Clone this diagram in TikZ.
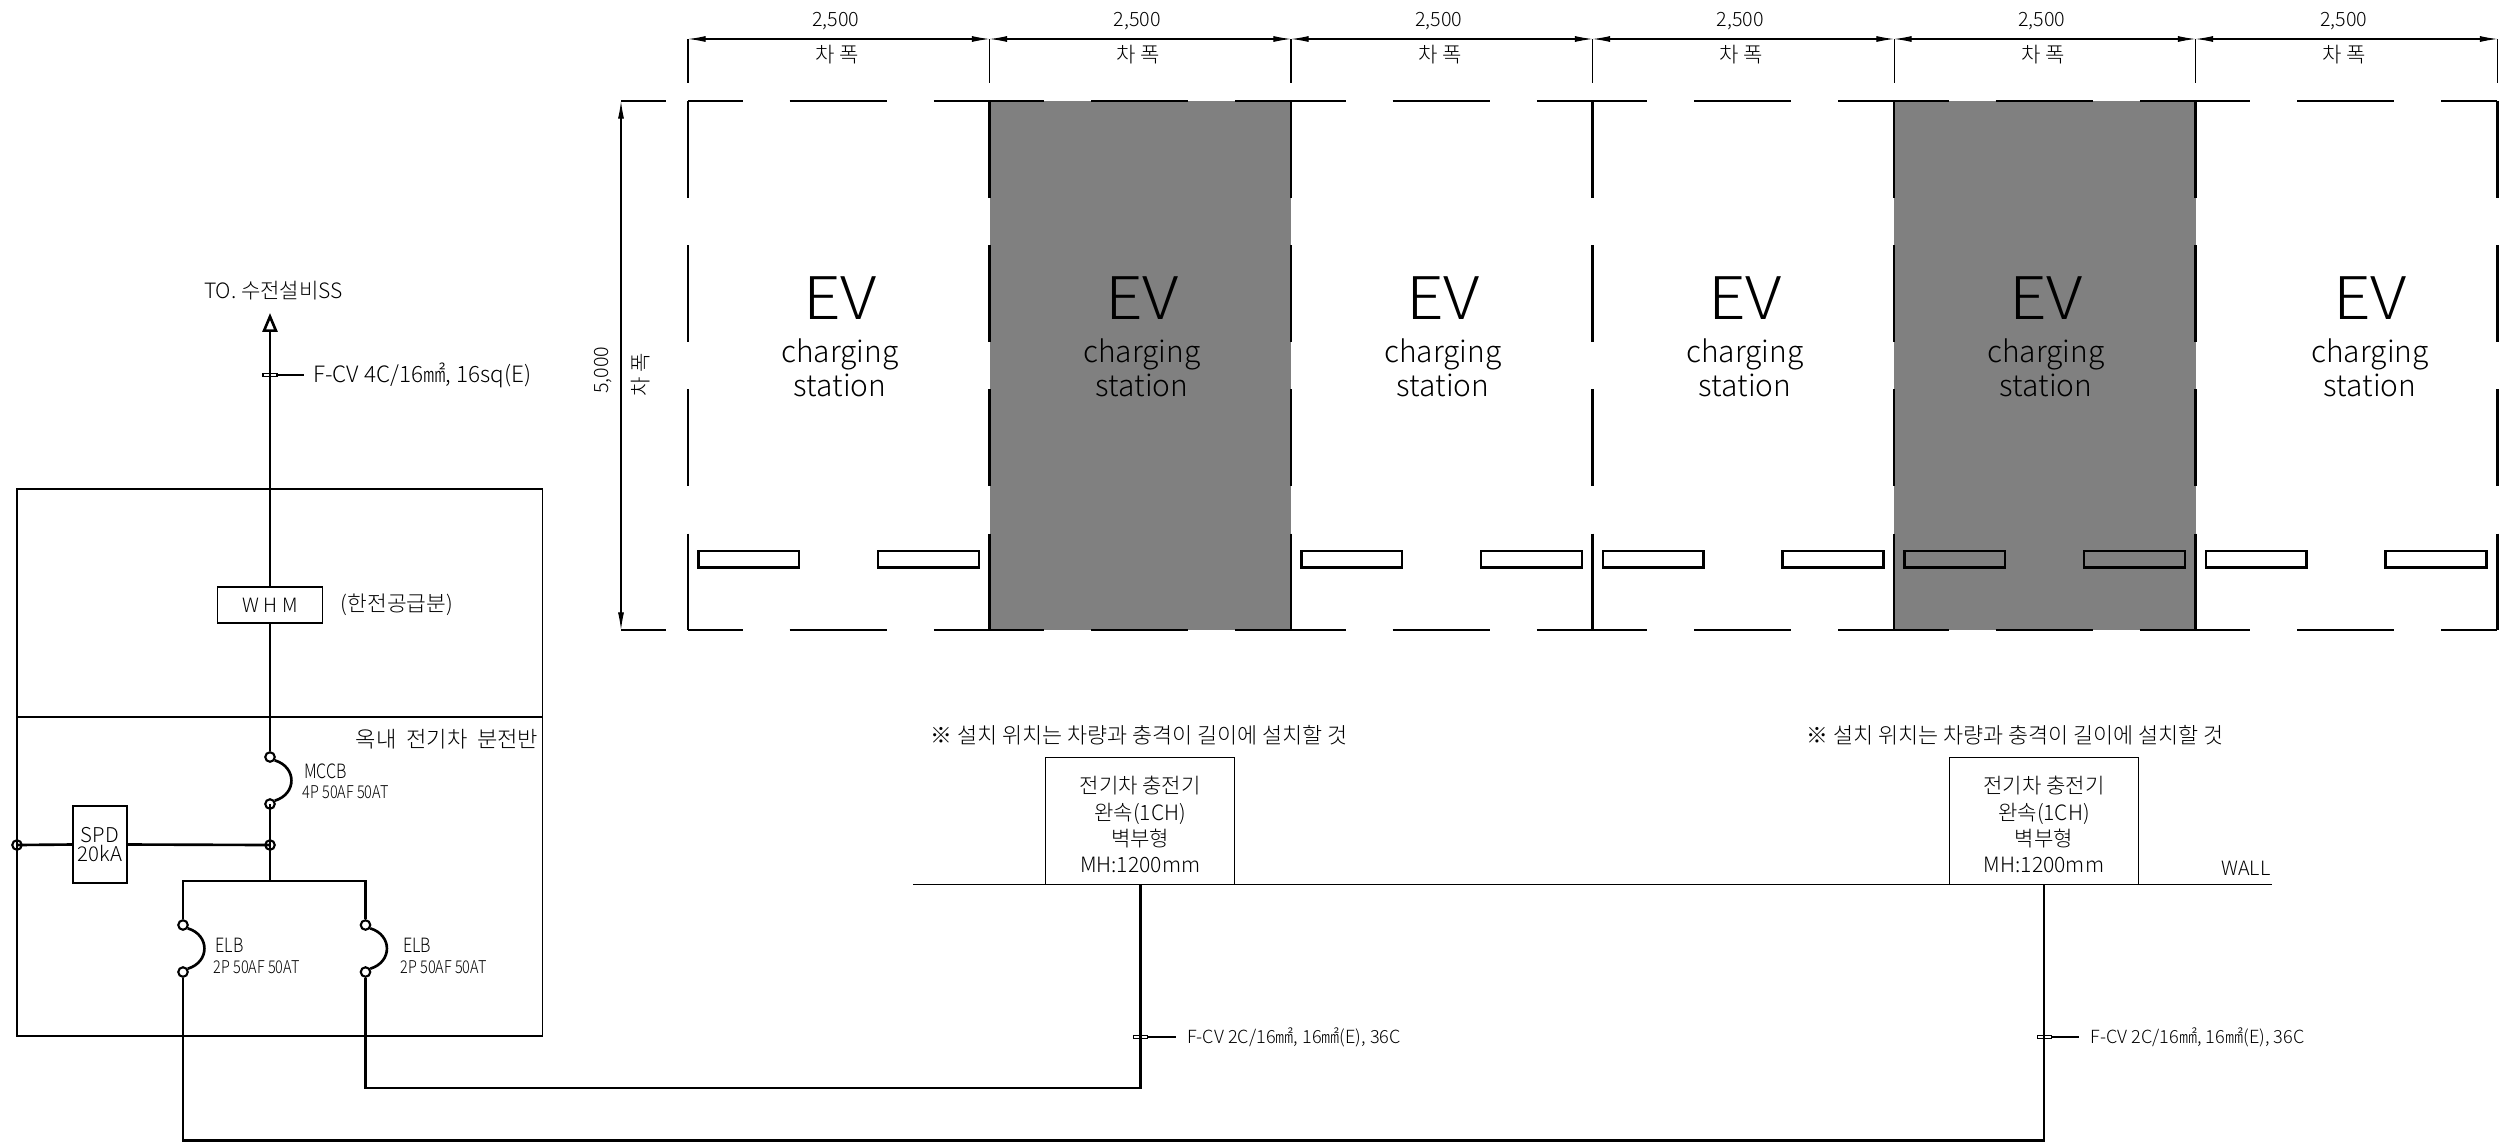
\documentclass[tikz,border=0pt]{standalone}
\usepackage{fontspec}
\usepackage{graphicx}
\usetikzlibrary{arrows.meta}
\setmainfont{Noto Sans CJK KR Light}
\newcommand*{\FontAt}[1]{\fontsize{#1}{#1}\selectfont}
\newcommand*{\Narrow}[1]{\scalebox{0.82}[1]{#1}}
\tikzset{
    every node/.style={inner sep=0pt},
    wire/.style={line width=0.75pt},
    thinline/.style={line width=0.3pt},
    bayline/.style={line width=0.75pt},
    dimline/.style={line width=0.3pt, {Latex[length=5pt,width=1.7pt]}-{Latex[length=5pt,width=1.7pt]}},
    term/.style={circle, draw, line width=0.6pt, minimum size=0.095cm},
    box/.style={draw, thinline, align=center},
    charger/.style={box, minimum width=1.885cm, minimum height=1.27cm, font=\fontsize{6}{7.5}\selectfont},
    cabletick/.style={draw, line width=0.3pt, minimum width=0.14cm, minimum height=0.035cm},
    small/.style={font=\FontAt{5.6}},
    rating/.style={font=\FontAt{5}},
    note/.style={font=\FontAt{6.2}},
}

\begin{document}
\begin{tikzpicture}[x=0.01cm,y=-0.01cm]
    \useasboundingbox (0,0) rectangle (2501,1142);
    \fill[white] (0,0) rectangle (2501,1142);
    \foreach \x in {989.5,1894}
        \fill[black!50] (\x,101) rectangle ({\x+301.5},630);
    \foreach \x in {688,989.5,1291,1592.5,1894,2195.5}
        \foreach \y in {101,630}
            \draw[bayline, dash pattern=on 15.5pt off 13.4pt on 27.6pt off 13.4pt on 16.5pt] (\x,\y) -- ({\x+301.7},\y);
    \foreach \x in {688,1291,1592.5,1894,2195.5}{
        \draw[line width=0.7pt] ({\x+10.5},551) rectangle ({\x+111},567.5);
        \draw[line width=0.7pt] ({\x+190},551) rectangle ({\x+291},567.5);
    }
    \foreach \x in {688,989.5,1291,1592.5,1894,2195.5,2497.5}{
        \draw[bayline, dash pattern=on 27.6pt off 13.4pt] (\x,101) -- (\x,630);
        \draw[thinline] (\x,39) -- (\x,83);
    }
    \foreach \xa/\xb in {688/989.5,989.5/1291,1291/1592.5,1592.5/1894,1894/2195.5,2195.5/2497.5}{
        \draw[dimline] (\xa,39) -- (\xb,39);
        \node[small] at ({(\xa+\xb)/2-3},21) {2,500};
        \node[font=\FontAt{6}] at ({(\xa+\xb)/2-2},55) {차 폭};
    }
    \draw[dimline] (621,101) -- (621,630);
    \draw[thinline] (621,101) -- (666,101);
    \draw[thinline] (621,630) -- (666,630);
    \node[small, rotate=90] at (602.7,370) {5,000};
    \node[font=\FontAt{6}, rotate=90] at (640.7,375) {차 폭};
    \foreach \x in {840,1142,1443,1745,2046,2370}{
        \node[font=\FontAt{16.7}] at (\x,298) {\scalebox{1.12}[1]{EV}};
        \node[font=\fontsize{8.5}{8.55}\selectfont, align=center] at (\x,368) {charging\\station};
    }

    \draw[thinline] (17,489) rectangle (542.5,1036);
    \draw[thinline] (17,717) -- (542.5,717);
    \node[font=\FontAt{6}] at (273.5,291) {TO. 수전설비SS};
    \node[font=\FontAt{6.1}] at (397,605) {(한전공급분)};
    \node[font=\FontAt{6.3}] at (447,739) {옥내\ \ 전기차\ \ 분전반};
    \node[box, minimum width=1.045cm, minimum height=0.36cm, small] (whm) at (270,605) {W H M};
    \coordinate (feedtop) at (270,313);
    \foreach \n/\x/\ya/\yb in {mccb/270/757/804,elba/183/925/972,elbb/365.5/925/972}{
        \node[term] (\n top) at (\x,\ya) {};
        \node[term] (\n bot) at (\x,\yb) {};
        \draw[wire] (\n top.-35) .. controls ({\x+27},{\ya+10}) and ({\x+27},{\yb-10}) .. (\n bot.35);
    }
    \node[term] (ground) at (17,845) {};
    \node[term] (tap) at (270,845) {};
    \node[box, minimum width=0.54cm, minimum height=0.77cm, font=\fontsize{5.8}{5.5}\selectfont, line width=0.45pt] (spd) at (100,844.5) {SPD\\20kA};
    \coordinate (busmid) at (270,881);
    \coordinate (busleft) at (183,881);
    \coordinate (busright) at (365.5,881);
    \node[charger] (chargera) at (1140.2,821) {\rule{0pt}{7pt}전기차 충전기\\완속(1CH)\\벽부형\\MH:1200mm};
    \node[charger] (chargerb) at (2044,821) {\rule{0pt}{7pt}전기차 충전기\\완속(1CH)\\벽부형\\MH:1200mm};
    \coordinate (walla) at (913,884.5);
    \coordinate (wallb) at (2272,884.5);
    \coordinate (cornera) at (1140.2,1088);
    \coordinate (cornerb) at (2044,1140.5);

    \draw[wire, -{Triangle[open,length=5.4pt,width=4.3pt]}] (whm.north) -- (feedtop);
    \draw[wire] (whm.south) -- (mccbtop.north);
    \draw[wire] (mccbbot.center) -- (busmid);
    \draw[wire] (ground.center) -- (spd.west);
    \draw[wire] (spd.east) -- (tap.center);
    \draw[wire] (elbatop.north) -- (busleft) -- (busright) -- (elbbtop.north);
    \draw[wire] (elbbbot.south) |- (cornera) -- (chargera.south);
    \draw[wire] (elbabot.south) |- (cornerb) -- (chargerb.south);
    \draw[thinline] (walla) -- (wallb);

    \node[cabletick] (tickfeed) at (270,375) {};
    \node[cabletick] (ticka) at (1140.2,1037) {};
    \node[cabletick] (tickb) at (2044,1037) {};
    \node[font=\FontAt{6.4}, anchor=west] (cablefeed) at (312.5,375) {F-CV 4C/16㎟, 16sq(E)};
    \node[font=\FontAt{5.15}, anchor=west] (cablea) at (1186.5,1037) {F-CV 2C/16㎟, 16㎟(E), 36C};
    \node[font=\FontAt{5.15}, anchor=west] (cableb) at (2090,1037) {F-CV 2C/16㎟, 16㎟(E), 36C};
    \draw[thinline, shorten >=2.5pt] (tickfeed.east) -- (cablefeed.west);
    \draw[thinline, shorten >=3pt] (ticka.east) -- (cablea.west);
    \draw[thinline, shorten >=3pt] (tickb.east) -- (cableb.west);

    \node[small, anchor=west] at (303.5,771) {\Narrow{MCCB}};
    \node[rating, anchor=west] at (302,792) {\Narrow{4P 50AF 50AT}};
    \node[small, anchor=west] at (215,945) {\Narrow{ELB}};
    \node[rating, anchor=west] at (213,967) {\Narrow{2P 50AF 50AT}};
    \node[small, anchor=west] at (402.5,945) {\Narrow{ELB}};
    \node[rating, anchor=west] at (400,967) {\Narrow{2P 50AF 50AT}};
    \node[note] at (1139,735) {※ 설치 위치는 차량과 충격이 길이에 설치할 것};
    \node[note] at (2015,735) {※ 설치 위치는 차량과 충격이 길이에 설치할 것};
    \node[small, anchor=east] at (2271,868) {WALL};
\end{tikzpicture}
\end{document}
